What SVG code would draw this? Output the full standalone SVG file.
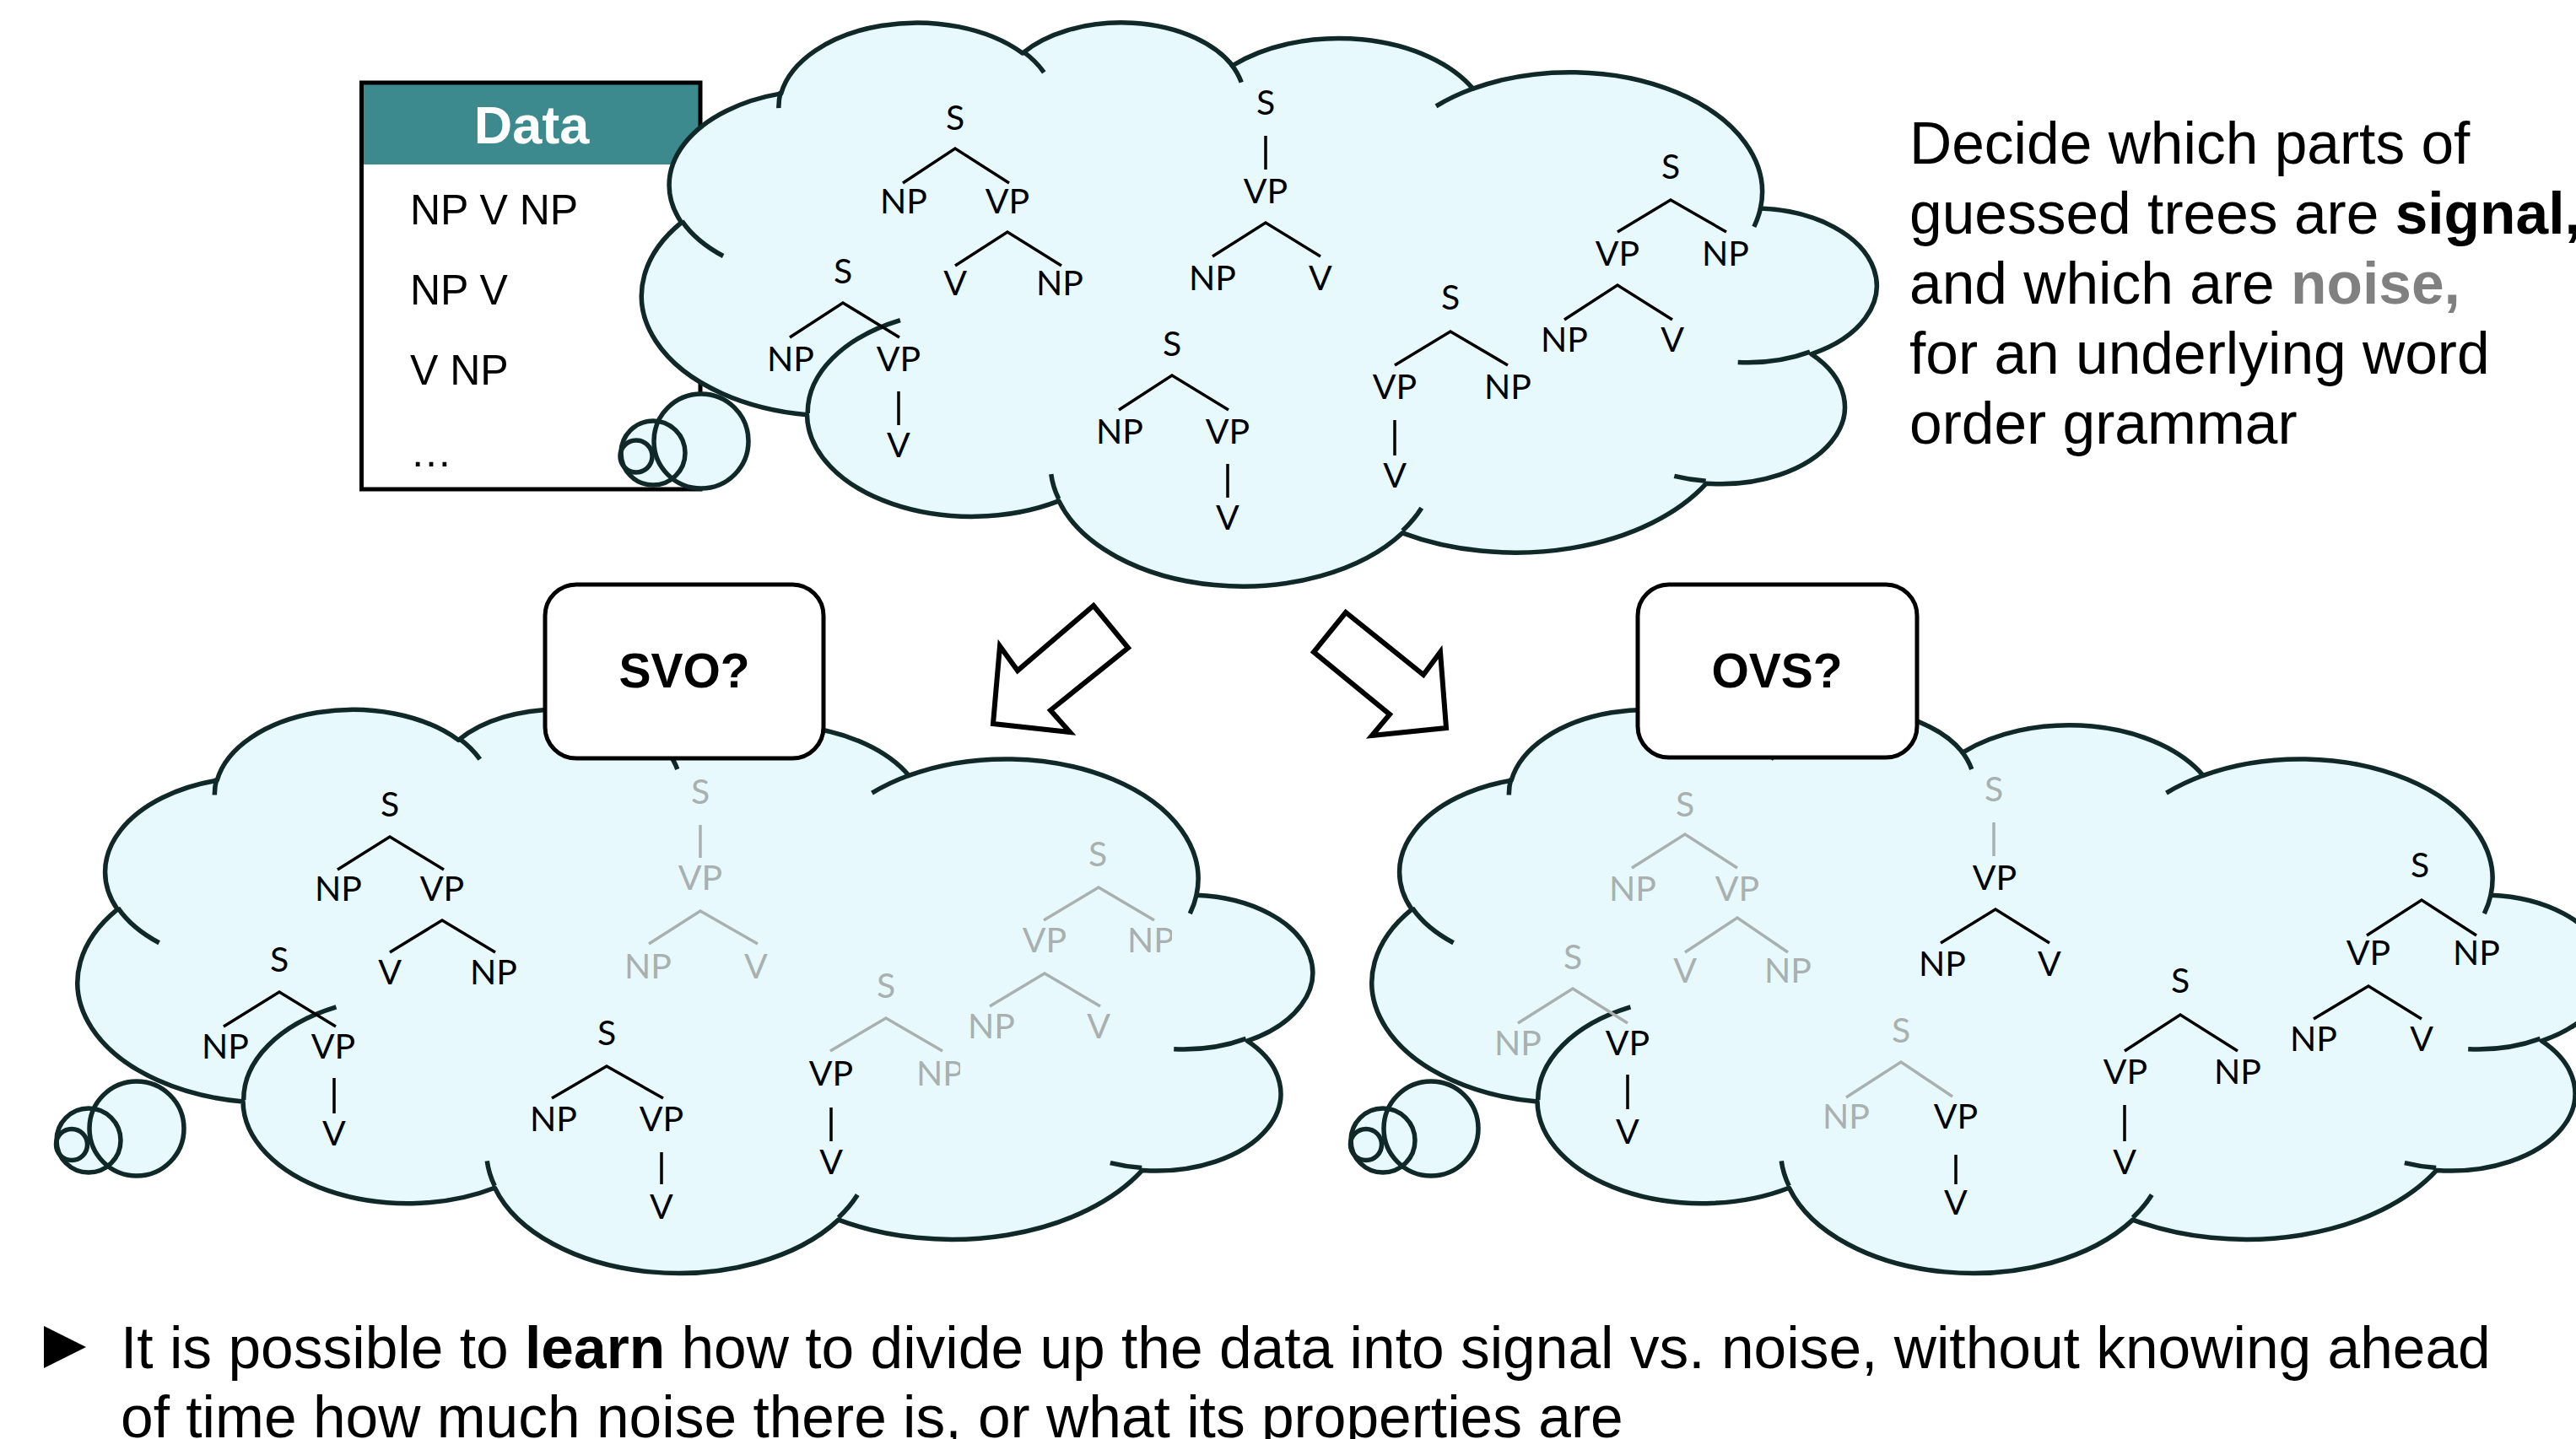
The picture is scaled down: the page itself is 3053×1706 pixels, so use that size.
<svg xmlns="http://www.w3.org/2000/svg" width="3053" height="1706" viewBox="0 0 3053 1706">
<style>
.cf{fill:#E7F9FC;stroke:#102828;stroke-width:5.5;stroke-linejoin:round}
.ci{fill:none;stroke:#102828;stroke-width:5.5;stroke-linecap:butt}
.bub{fill:#E7F9FC;stroke:none}
.bubs{fill:none;stroke:#102828;stroke-width:5.5}
.t{font-family:Lato,"Liberation Sans",sans-serif;font-size:41px;text-anchor:middle;fill:#000}
.t.g{fill:#A8B0B0}
.l{fill:none;stroke:#000;stroke-width:3.5;stroke-linecap:butt;stroke-linejoin:miter}
.l.g{stroke:#A8B0B0}
.txt{font-family:"Liberation Sans",Arial,sans-serif;font-size:69.5px;fill:#000}
.box{fill:#fff;stroke:#000;stroke-width:5}
.bt{font-family:"Liberation Sans",Arial,sans-serif;font-size:57px;font-weight:bold;text-anchor:middle;fill:#000}
.arr{fill:#fff;stroke:#000;stroke-width:6;stroke-linejoin:miter}
.dt{font-family:"Liberation Sans",Arial,sans-serif;font-size:50px;fill:#000}
</style>
<defs>
<g id="cloud">
<path class="cf" vector-effect="non-scaling-stroke" d="M3900,14370 A6753,9190 0 0 1 14005,5202 A5333,7267 0 0 1 22455,3432 A4365,5945 0 0 1 29832,2480 A4857,6595 0 0 1 38317,5575 A5333,7273 0 0 1 41817,15459 A6775,9220 0 0 1 37403,30202 A5785,7867 0 0 1 28555,36812 A6752,9215 0 0 1 16479,39263 A7720,10543 0 0 1 5803,35469 A4360,5918 0 0 1 2112,25547 A4345,5945 0 0 1 3900,14370 Z"/>
<path class="ci" vector-effect="non-scaling-stroke" d="M4693,26177 A4345,5945 0 0 1 2160,25380 M6928,34899 A4360,5918 0 0 1 5820,35280 M16478,39090 A6752,9215 0 0 1 15810,37350 M28827,34751 A6752,9215 0 0 1 28560,36660 M34129,22954 A5785,7867 0 0 1 37381,30090 M41798,15354 A5333,7273 0 0 1 40350,18030 M38324,5426 A4857,6595 0 0 1 38400,6690 M29078,3952 A4857,6595 0 0 1 29820,2340 M22141,4720 A4365,5945 0 0 1 22500,3330 M14000,5192 A6753,9190 0 0 1 15300,6540 M4127,15789 A6753,9190 0 0 1 3900,14371"/>
</g>
<clipPath id="cutR" clipPathUnits="userSpaceOnUse"><rect x="-500" y="-500" width="588" height="1000"/></clipPath>
</defs>

<g id="data-box">
<rect x="428.5" y="98" width="401.5" height="97" fill="#3D8A8E"/>
<rect x="428.5" y="98" width="401.5" height="482" fill="none" stroke="#000" stroke-width="5"/>
<text x="630" y="170" font-family="Liberation Sans,Arial,sans-serif" font-size="63" font-weight="bold" fill="#fff" text-anchor="middle">Data</text>
<text class="dt" x="486" y="266">NP V NP</text>
<text class="dt" x="486" y="361">NP V</text>
<text class="dt" x="486" y="456">V NP</text>
<text class="dt" x="486" y="553">…</text>
</g>

<g id="cloud-top">
<use href="#cloud" transform="translate(2218,24.7) scale(-0.033727,0.015463)"/>
<circle class="bub" cx="831" cy="523" r="56"/><circle class="bub" cx="774" cy="537" r="38"/><circle class="bub" cx="754" cy="541" r="19"/>
<circle class="bubs" cx="831" cy="523" r="56"/><circle class="bubs" cx="774" cy="537" r="38"/><circle class="bubs" cx="754" cy="541" r="19"/>
</g>

<g id="trees-top">
<g id="t1" transform="translate(1132,154)">
<text class="t" x="0" y="0">S</text><polyline class="l" points="-62,63 0,22 64,63"/>
<text class="t" x="-61" y="99">NP</text><text class="t" x="62" y="99">VP</text>
<polyline class="l" points="0,161 62,121 126,161"/>
<text class="t" x="0" y="196">V</text><text class="t" x="124" y="196">NP</text>
</g>
<g id="t2" transform="translate(999,336)">
<text class="t" x="0" y="0">S</text><polyline class="l" points="-63,64 0,23 67,64"/>
<text class="t" x="-62" y="104">NP</text><text class="t" x="66" y="104">VP</text>
<line class="l" x1="66" y1="128" x2="66" y2="168"/><text class="t" x="66" y="206">V</text>
</g>
<g id="t3" transform="translate(1389,422)">
<text class="t" x="0" y="0">S</text><polyline class="l" points="-63,64 0,23 67,64"/>
<text class="t" x="-62" y="104">NP</text><text class="t" x="66" y="104">VP</text>
<line class="l" x1="66" y1="128" x2="66" y2="168"/><text class="t" x="66" y="206">V</text>
</g>
<g id="t4" transform="translate(1500,136)">
<text class="t" x="0" y="0">S</text><line class="l" x1="0" y1="25" x2="0" y2="65"/>
<text class="t" x="0" y="105">VP</text><polyline class="l" points="-63,168 0,128 65,168"/>
<text class="t" x="-63" y="208">NP</text><text class="t" x="65" y="208">V</text>
</g>
<g id="t5" transform="translate(1719,367)">
<text class="t" x="0" y="0">S</text><polyline class="l" points="-66,66 0,26 68,66"/>
<text class="t" x="-66" y="106">VP</text><text class="t" x="68" y="106">NP</text>
<line class="l" x1="-66" y1="131" x2="-66" y2="173"/><text class="t" x="-66" y="211">V</text>
</g>
<g id="t6" transform="translate(1980,212)">
<text class="t" x="0" y="0">S</text><polyline class="l" points="-63,63 0,25 66,63"/>
<text class="t" x="-63" y="103">VP</text><text class="t" x="65" y="103">NP</text>
<polyline class="l" points="-126,167 -63,126 2,167"/>
<text class="t" x="-126" y="205">NP</text><text class="t" x="2" y="205">V</text>
</g>
</g>

<g id="caption-right" class="txt">
<text x="2263" y="194">Decide which parts of</text>
<text x="2263" y="277">guessed trees are <tspan font-weight="bold">signal,</tspan></text>
<text x="2263" y="360">and which are <tspan font-weight="bold" fill="#808080">noise,</tspan></text>
<text x="2263" y="443">for an underlying word</text>
<text x="2263" y="526">order grammar</text>
</g>

<g id="connectors">
<polygon class="arr" points="1296,718 1337,768 1245,842 1268,868 1177,858 1185,766 1206,795"/>
<polygon class="arr" points="1595,726 1687,800 1707,773 1714,863 1626,872 1647,847 1557,773"/>
</g>

<g id="cloud-svo">
<use href="#cloud" transform="translate(1549.5,839) scale(-0.033727,0.015463)"/>
<circle class="bub" cx="162" cy="1338" r="56"/><circle class="bub" cx="105" cy="1352" r="38"/><circle class="bub" cx="85" cy="1357" r="18.5"/>
<circle class="bubs" cx="162" cy="1338" r="56"/><circle class="bubs" cx="105" cy="1352" r="38"/><circle class="bubs" cx="85" cy="1357" r="18.5"/>
</g>
<g id="trees-svo">
<g id="a" transform="translate(462,968)">
<text class="t" x="0" y="0">S</text><polyline class="l" points="-62,63 0,24 64,63"/>
<text class="t" x="-61" y="100">NP</text><text class="t" x="62" y="100">VP</text>
<polyline class="l" points="0,161 62,123 125,161"/>
<text class="t" x="0" y="199">V</text><text class="t" x="123" y="199">NP</text>
</g>
<g id="b" transform="translate(331,1152)">
<text class="t" x="0" y="0">S</text><polyline class="l" points="-66,65 0,24 67,65"/>
<text class="t" x="-64" y="103">NP</text><text class="t" x="64" y="103">VP</text>
<line class="l" x1="65" y1="126" x2="65" y2="168"/><text class="t" x="65" y="206">V</text>
</g>
<g id="c" transform="translate(719,1239)">
<text class="t" x="0" y="0">S</text><polyline class="l" points="-65,63 0,25 67,63"/>
<text class="t" x="-63" y="102">NP</text><text class="t" x="65" y="102">VP</text>
<line class="l" x1="65" y1="127" x2="65" y2="165"/><text class="t" x="65" y="206">V</text>
</g>
<g id="d" transform="translate(830,953)">
<text class="t g" x="0" y="0">S</text><line class="l g" x1="0" y1="25" x2="0" y2="64"/>
<text class="t g" x="0" y="102">VP</text><polyline class="l g" points="-61,166 0,127 68,166"/>
<text class="t g" x="-62" y="207">NP</text><text class="t g" x="66" y="207">V</text>
</g>
<g id="e" transform="translate(1301,1027)">
<text class="t g" x="0" y="0">S</text><polyline class="l g" points="-64,64 1,25 67,64"/>
<text class="t g" x="-63" y="102">VP</text><text class="t g" x="63" y="102" clip-path="url(#cutR)">NP</text>
<polyline class="l g" points="-128,166 -63,127 3,166"/>
<text class="t g" x="-126" y="204">NP</text><text class="t g" x="1" y="204">V</text>
</g>
<g id="f" transform="translate(1050,1183)">
<text class="t g" x="0" y="0">S</text><polyline class="l g" points="-66,63 0,24 67,63"/>
<text class="t" x="-65" y="104">VP</text><text class="t g" x="64" y="104" clip-path="url(#cutR)">NP</text>
<line class="l" x1="-65" y1="130" x2="-65" y2="170"/><text class="t" x="-65" y="209">V</text>
</g>
</g>
<g id="svo-box">
<rect class="box" x="646" y="693" width="330" height="206" rx="37"/>
<text class="bt" x="811" y="815">SVO?</text>
</g>

<g id="cloud-ovs">
<use href="#cloud" transform="translate(3083.5,839) scale(-0.033727,0.015463)"/>
<circle class="bub" cx="1696" cy="1338" r="56"/><circle class="bub" cx="1639" cy="1352" r="38"/><circle class="bub" cx="1619" cy="1357" r="18.5"/>
<circle class="bubs" cx="1696" cy="1338" r="56"/><circle class="bubs" cx="1639" cy="1352" r="38"/><circle class="bubs" cx="1619" cy="1357" r="18.5"/>
</g>
<g id="trees-ovs">
<g id="g1" transform="translate(1997,968)">
<text class="t g" x="0" y="0">S</text><polyline class="l g" points="-63,61 0,21 62,61"/>
<text class="t g" x="-62" y="100">NP</text><text class="t g" x="62" y="100">VP</text>
<polyline class="l g" points="0,161 62,120 122,161"/>
<text class="t g" x="0" y="197">V</text><text class="t g" x="122" y="197">NP</text>
</g>
<g id="h" transform="translate(1864,1149)">
<text class="t g" x="0" y="0">S</text><polyline class="l g" points="-65,64 0,23 65,64"/>
<text class="t g" x="-65" y="102">NP</text><text class="t" x="65" y="102">VP</text>
<line class="l" x1="65" y1="125" x2="65" y2="166"/><text class="t" x="65" y="207">V</text>
</g>
<g id="i" transform="translate(2363,950)">
<text class="t g" x="0" y="0">S</text><line class="l g" x1="0" y1="25" x2="0" y2="65"/>
<text class="t" x="1" y="105">VP</text><polyline class="l" points="-63,168 2,128 66,168"/>
<text class="t" x="-61" y="207">NP</text><text class="t" x="66" y="207">V</text>
</g>
<g id="j" transform="translate(2253,1236)">
<text class="t g" x="0" y="0">S</text><polyline class="l g" points="-65,65 0,23 61,64"/>
<text class="t g" x="-65" y="102">NP</text><text class="t" x="65" y="102">VP</text>
<line class="l" x1="65" y1="133" x2="65" y2="168"/><text class="t" x="65" y="204">V</text>
</g>
<g id="k" transform="translate(2584,1177)">
<text class="t" x="0" y="0">S</text><polyline class="l" points="-66,69 0,26 68,69"/>
<text class="t" x="-65" y="108">VP</text><text class="t" x="68" y="108">NP</text>
<line class="l" x1="-66" y1="133" x2="-66" y2="176"/><text class="t" x="-66" y="215">V</text>
</g>
<g id="l1" transform="translate(2868,1040)">
<text class="t" x="0" y="0">S</text><polyline class="l" points="-63,69 2,27 67,69"/>
<text class="t" x="-61" y="104">VP</text><text class="t" x="67" y="104">NP</text>
<polyline class="l" points="-126,168 -61,129 2,168"/>
<text class="t" x="-126" y="206">NP</text><text class="t" x="2" y="206">V</text>
</g>
</g>
<g id="ovs-box">
<rect class="box" x="1941" y="693" width="331" height="205" rx="37"/>
<text class="bt" x="2106" y="815">OVS?</text>
</g>

<g id="bottom-text" class="txt">
<polygon points="52,1572 102,1597 52,1622" fill="#000"/>
<text x="143" y="1622">It is possible to <tspan font-weight="bold">learn</tspan> how to divide up the data into signal vs. noise, without knowing ahead</text>
<text x="143" y="1704">of time how much noise there is, or what its properties are</text>
</g>
</svg>
